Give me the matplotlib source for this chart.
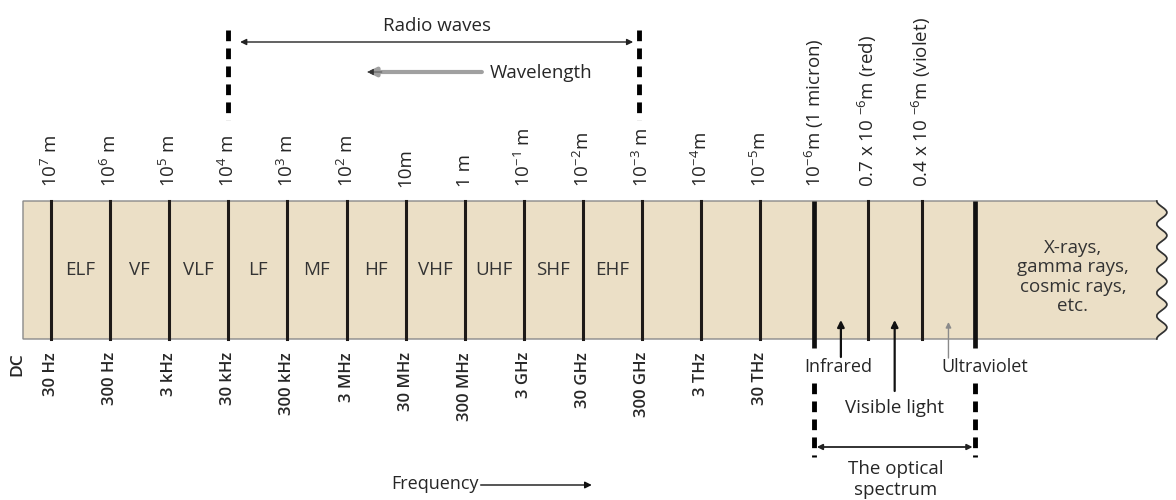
import numpy as np
import matplotlib
matplotlib.use("Agg")
import matplotlib.pyplot as plt

# band names between the divider lines (radio part)
band_names = ["ELF", "VF", "VLF", "LF", "MF", "HF", "VHF", "UHF", "SHF", "EHF"]

# wavelength labels written above each divider
wavelength_labels = [
    r"10$^{7}$ m", r"10$^{6}$ m", r"10$^{5}$ m", r"10$^{4}$ m", r"10$^{3}$ m",
    r"10$^{2}$ m", "10m", "1 m", r"10$^{-1}$ m", r"10$^{-2}$m", r"10$^{-3}$ m",
    r"10$^{-4}$m", r"10$^{-5}$m", r"10$^{-6}$m (1 micron)",
    r"0.7 x 10 $^{-6}$m (red)", r"0.4 x 10 $^{-6}$m (violet)",
]

# frequency labels written below each divider
freq_labels = ["30 Hz", "300 Hz", "3 kHz", "30 kHz", "300 kHz", "3 MHz", "30 MHz",
               "300 MHz", "3 GHz", "30 GHz", "300 GHz", "3 THz", "30 THz"]

optical_names = ["Infrared", "Visible light", "Ultraviolet"]
xray_text = "X-rays,\ngamma rays,\ncosmic rays,\netc."

plt.rcParams["font.family"] = ["Open Sans", "DejaVu Sans"]
plt.rcParams["mathtext.fontset"] = "custom"
plt.rcParams["mathtext.rm"] = "Open Sans"
plt.rcParams["mathtext.default"] = "regular"

BEIGE = "#ebdfc6"
TXT = "#262626"

# layout: one slot per decade, optical section a bit narrower
main_pos = np.arange(len(freq_labels), dtype=float)
opt_pos = main_pos[-1] + 0.91 * np.arange(1, 5)
bounds = np.concatenate([main_pos, opt_pos])
TOP, BOT = 201, 339
XL, XR = -0.474, 18.71

fig = plt.figure(figsize=(11.76, 5.0), dpi=100)
ax = fig.add_axes([0, 0, 1, 1])
ax.set_xlim(-0.863, 19.035)
ax.set_ylim(500, 0)
ax.axis("off")

# strip with wavy right edge
yy = np.linspace(TOP, BOT, 200)
wave = XR + 0.085 * (1 + np.sin(2 * np.pi * 6 * (yy - TOP) / (BOT - TOP) - np.pi / 2))
px = np.concatenate([[XL], wave, [XL]])
py = np.concatenate([[TOP], yy, [BOT]])
ax.fill(px, py, facecolor=BEIGE, edgecolor="#8a8a8a", lw=1.0, zorder=1)
ax.plot(wave, yy, color="#333333", lw=1.2, zorder=2)

# dividers
thick = [len(main_pos), len(bounds) - 1]
for i, b in enumerate(bounds):
    if i in thick:
        ax.plot([b, b], [TOP, 348], color="#111111", lw=3.4, solid_capstyle="butt", zorder=3)
    else:
        ax.plot([b, b], [TOP, BOT], color="#1e1a18", lw=2.2, zorder=3)

# band names
for i, name in enumerate(band_names):
    ax.text(main_pos[i] + 0.5, 275, name, ha="center", va="baseline",
            fontsize=13.5, color="#333333", zorder=4)

# wavelength labels (rotated)
for b, lab in zip(bounds, wavelength_labels):
    ax.text(b, 187, lab, rotation=90, ha="center", va="bottom",
            fontsize=13.5, color=TXT)

# frequency labels (rotated)
ax.text(XL - 0.1, 352, "DC", rotation=90, ha="center", va="top", fontsize=12.5,
        fontweight="semibold", color=TXT)
for b, lab in zip(main_pos, freq_labels):
    ax.text(b, 352, lab, rotation=90, ha="center", va="top", fontsize=12,
            fontweight="semibold", color=TXT)

# X-rays text
ax.text(17.29, 277, xray_text, ha="center", va="center", fontsize=13.5,
        color="#333333", linespacing=1.1)

# radio waves
r0, r1 = bounds[3], bounds[10] - 0.05
for xv in (r0, r1):
    ax.plot([xv, xv], [30, 120], color="black", lw=3.5, ls=(0, (2.2, 1.5)))
ax.annotate("", xy=(r0 + 0.2, 42), xytext=(r1 - 0.1, 42),
            arrowprops=dict(arrowstyle="<|-|>", color="#222222", lw=1.0,
                            mutation_scale=9, shrinkA=0, shrinkB=0))
ax.text((r0 + r1) / 2 + 0.05, 31, "Radio waves", ha="center", va="baseline",
        fontsize=13.5, color=TXT)

# wavelength direction
ax.annotate("", xy=(5.35, 72), xytext=(7.29, 72),
            arrowprops=dict(arrowstyle="-|>", color="#a0a0a0", lw=3.0,
                            mutation_scale=12, shrinkA=0, shrinkB=0))
ax.annotate("", xy=(5.35, 72), xytext=(5.6, 72),
            arrowprops=dict(arrowstyle="-|>", color="#333333", lw=0.5,
                            mutation_scale=10, shrinkA=0, shrinkB=0))
ax.text(7.43, 78, "Wavelength", ha="left", va="baseline", fontsize=13.5, color=TXT)

# frequency direction
ax.text(7.23, 489, "Frequency", ha="right", va="baseline", fontsize=13, color=TXT)
ax.annotate("", xy=(9.15, 485), xytext=(7.27, 485),
            arrowprops=dict(arrowstyle="-|>", color="#111111", lw=1.0,
                            mutation_scale=10, shrinkA=0, shrinkB=0))

# optical spectrum
o0, o1 = bounds[thick[0]], bounds[thick[1]]
for xv in (o0, o1):
    ax.plot([xv, xv], [383, 457], color="black", lw=3.5, ls=(0, (2.2, 1.5)))
ax.annotate("", xy=(o0, 447), xytext=(o1, 447),
            arrowprops=dict(arrowstyle="<|-|>", color="#222222", lw=1.3,
                            mutation_scale=8, shrinkA=2, shrinkB=2))
ax.text((o0 + o1) / 2 + 0.02, 474, "The optical", ha="center", va="baseline",
        fontsize=13.5, color=TXT)
ax.text((o0 + o1) / 2 + 0.02, 495, "spectrum", ha="center", va="baseline",
        fontsize=13.5, color=TXT)

mids = (bounds[thick[0]:thick[1]] + bounds[thick[0] + 1:thick[1] + 1]) / 2
# infrared
ax.annotate("", xy=(mids[0], 320), xytext=(mids[0], 357),
            arrowprops=dict(arrowstyle="-|>", color="#111111", lw=1.6,
                            mutation_scale=10, shrinkA=0, shrinkB=0))
ax.text(mids[0] - 0.05, 372, optical_names[0], ha="center", va="baseline",
        fontsize=13, color=TXT)
# visible
ax.annotate("", xy=(mids[1], 320), xytext=(mids[1], 391),
            arrowprops=dict(arrowstyle="-|>", color="#111111", lw=1.6,
                            mutation_scale=10, shrinkA=0, shrinkB=0))
ax.text(mids[1], 413, optical_names[1], ha="center", va="baseline",
        fontsize=13.5, color=TXT)
# ultraviolet
ax.annotate("", xy=(mids[2], 322), xytext=(mids[2], 358),
            arrowprops=dict(arrowstyle="-|>", color="#8a8a8a", lw=1.0,
                            mutation_scale=8, shrinkA=0, shrinkB=0))
ax.text(mids[2] - 0.12, 372, optical_names[2], ha="left", va="baseline",
        fontsize=13, color=TXT)

fig.savefig("out.png", dpi=100, facecolor="white")
